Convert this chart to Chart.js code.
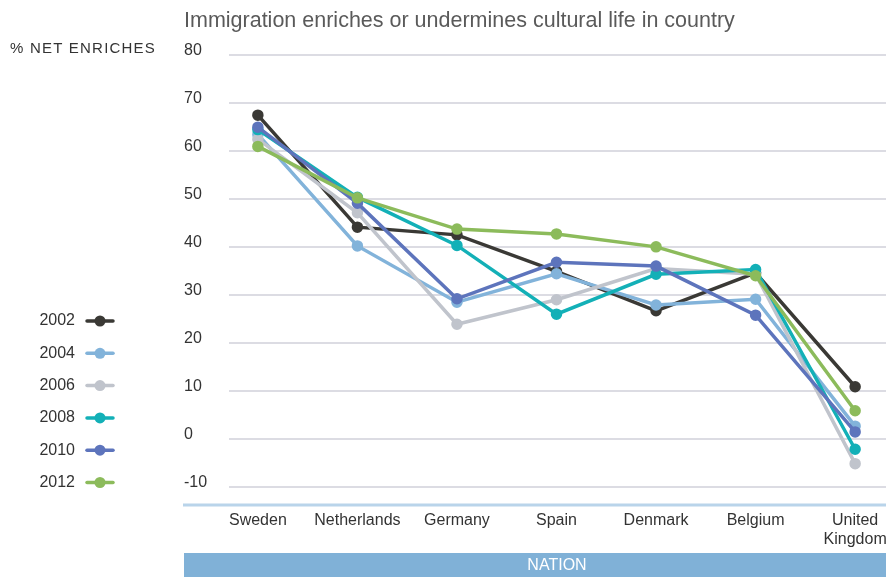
<!DOCTYPE html>
<html>
<head>
<meta charset="utf-8">
<script src="https://cdn.jsdelivr.net/npm/chart.js@4/dist/chart.umd.min.js"></script>
<style>
    html, body { margin: 0; padding: 0; background: #fff; }
    #wrap { position: relative; width: 886px; height: 577px; }
</style>
</head>
<body>
<div id="wrap"><canvas id="chart"></canvas></div>
<script>
// Страны по оси X
const CATEGORIES = ['Sweden', 'Netherlands', 'Germany', 'Spain', 'Denmark', 'Belgium', ['United', 'Kingdom']];

// Годы опроса (серии)
const YEARS = ['2002', '2004', '2006', '2008', '2010', '2012'];

// % net enriches по каждой стране, порядок как в CATEGORIES
const V2002 = [67.4, 44.1, 42.5, 34.9, 26.7, 34.6, 10.9];
const V2004 = [63.4, 40.2, 28.5, 34.4, 27.9, 29.1, 2.7];
const V2006 = [62.4, 47.1, 23.9, 29.0, 35.5, 34.3, -5.1];
const V2008 = [64.4, 50.3, 40.3, 26.0, 34.3, 35.3, -2.1];
const V2010 = [64.9, 49.1, 29.2, 36.8, 36.0, 25.8, 1.5];
const V2012 = [60.9, 50.2, 43.7, 42.7, 40.0, 34.0, 5.9];

// Подписи шкалы Y
const Y_TICKS = [-10, 0, 10, 20, 30, 40, 50, 60, 70, 80];

const COLORS = ['#3a3935', '#82b3da', '#c0c4cc', '#13b0b7', '#5d74bc', '#8cbb5b'];

const FONT = "'Liberation Sans', Arial, sans-serif";

const onDOMLoaded = () => {
    const CTX = document.getElementById('chart').getContext('2d');
    const SERIES = [V2002, V2004, V2006, V2008, V2010, V2012];

    /**
     * Рисуем то, чего нет в Chart.js из коробки: подпись оси Y, легенду слева,
     * голубую линию оси и плашку NATION внизу.
     */
    const decorations = {
        id: 'decorations',
        afterDraw(chart) {
            const ctx = chart.ctx;
            const area = chart.chartArea;
            ctx.save();

            // подпись оси Y
            ctx.fillStyle = '#333';
            ctx.font = '15px ' + FONT;
            ctx.textBaseline = 'middle';
            ctx.textAlign = 'left';
            ctx.letterSpacing = '1.2px';
            ctx.fillText('% NET ENRICHES', 10, 49);
            ctx.letterSpacing = '0px';

            // легенда: текст, потом маркер
            chart.data.datasets.forEach((ds, i) => {
                const y = 321 + i * 32.3;
                ctx.fillStyle = '#333';
                ctx.font = '16px ' + FONT;
                ctx.textAlign = 'right';
                ctx.fillText(ds.label, 75, y);
                ctx.strokeStyle = ds.borderColor;
                ctx.lineWidth = 3.5;
                ctx.lineCap = 'round';
                ctx.beginPath();
                ctx.moveTo(87, y);
                ctx.lineTo(113, y);
                ctx.stroke();
                ctx.fillStyle = ds.borderColor;
                ctx.beginPath();
                ctx.arc(100, y, 5.5, 0, Math.PI * 2);
                ctx.fill();
            });

            // линия оси X
            ctx.strokeStyle = '#b9d4ea';
            ctx.lineWidth = 3;
            ctx.lineCap = 'butt';
            ctx.beginPath();
            ctx.moveTo(183, area.bottom);
            ctx.lineTo(chart.width, area.bottom);
            ctx.stroke();

            // плашка NATION
            ctx.fillStyle = '#80b1d7';
            ctx.fillRect(184, 553, chart.width - 184, 24);
            ctx.fillStyle = '#fff';
            ctx.font = '16px ' + FONT;
            ctx.textAlign = 'center';
            ctx.fillText('NATION', 557, 566);

            ctx.restore();
        }
    };

    new Chart(CTX, {
        type: 'line',
        data: {
            datasets: YEARS.map((year, i) => ({
                label: year,
                data: SERIES[i].map((v, j) => ({x: j, y: v})),
                borderColor: COLORS[i],
                backgroundColor: COLORS[i],
                borderWidth: 3.5,
                pointRadius: 4,
                pointHoverRadius: 4,
                tension: 0,
                clip: false,
                order: YEARS.length - i
            }))
        },
        options: {
            responsive: true,
            maintainAspectRatio: false,
            animation: false,
            layout: {
                autoPadding: false,
                padding: {left: 184, right: 0, top: 0, bottom: 0}
            },
            plugins: {
                legend: {display: false},
                tooltip: {enabled: false},
                title: {
                    display: true,
                    text: 'Immigration enriches or undermines cultural life in country',
                    align: 'start',
                    color: '#5a5a5a',
                    font: {family: FONT, size: 21.5, weight: 'normal'},
                    padding: {top: 8, bottom: 20.8}
                }
            },
            scales: {
                x: {
                    type: 'linear',
                    min: -0.29,
                    max: 6.31,
                    afterBuildTicks: (scale) => {
                        scale.ticks = CATEGORIES.map((c, i) => ({value: i}));
                    },
                    afterFit: (scale) => {
                        // подписи могут вылезать за край, место под них не резервируем
                        scale.height = 72;
                        scale.paddingLeft = 0;
                        scale.paddingRight = 0;
                    },
                    grid: {display: false, drawTicks: false},
                    border: {display: false},
                    ticks: {
                        color: '#333',
                        font: {family: FONT, size: 16},
                        padding: 6,
                        maxRotation: 0,
                        autoSkip: false,
                        callback: (v) => CATEGORIES[v]
                    }
                },
                y: {
                    min: -13.7,
                    max: 80,
                    afterBuildTicks: (scale) => {
                        scale.ticks = Y_TICKS.map((v) => ({value: v}));
                    },
                    afterFit: (scale) => {
                        scale.width = 45;
                    },
                    grid: {color: '#dcdce3', lineWidth: 2, drawTicks: false},
                    border: {display: false},
                    ticks: {
                        color: '#333',
                        font: {family: FONT, size: 16},
                        crossAlign: 'far',
                        labelOffset: -4.5,
                        padding: 0
                    }
                }
            }
        },
        plugins: [decorations]
    });
};

document.addEventListener('DOMContentLoaded', onDOMLoaded);
</script>
</body>
</html>
